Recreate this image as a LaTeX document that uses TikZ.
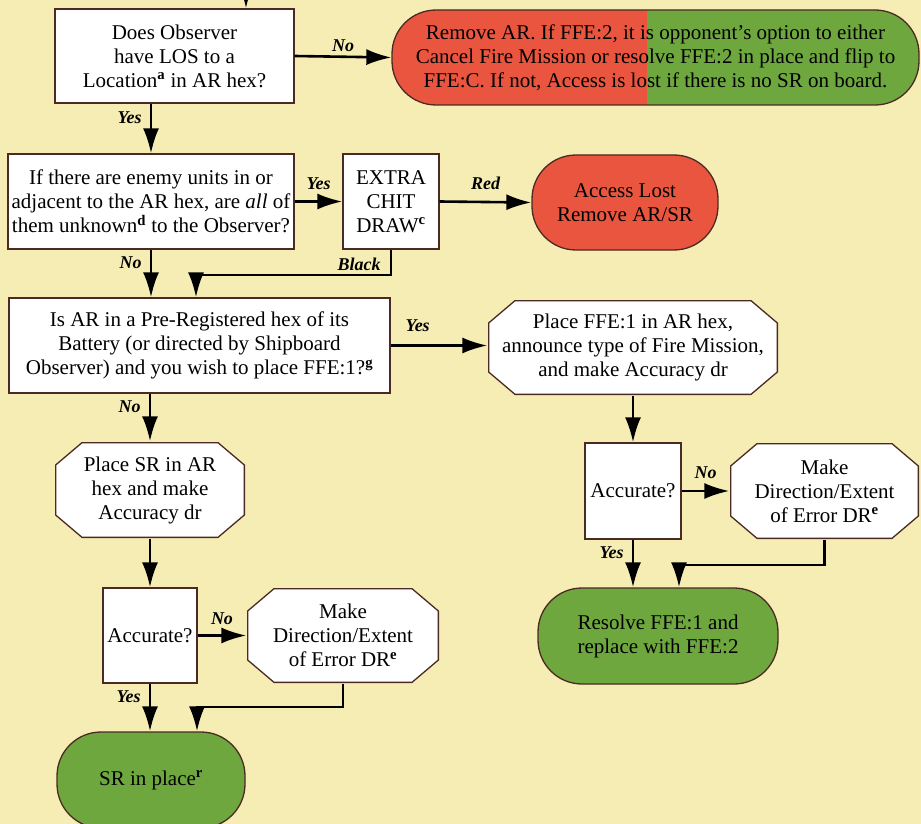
\documentclass[tikz,border=0pt]{standalone}
\usepackage{fontspec}
\setmainfont{Liberation Serif}
\usetikzlibrary{arrows.meta}
\definecolor{paper}{HTML}{F6EDB4}
\definecolor{redf}{HTML}{E9553F}
\definecolor{greenf}{HTML}{6DA73E}
\definecolor{edge}{HTML}{4A2A22}
\tikzset{
	box/.style={draw=edge,line width=1.3pt,fill=white,rectangle,align=center,inner sep=1pt,font=\fontsize{21}{24}\selectfont},
	qbox/.style={box},
	pill/.style={box,rounded corners=44pt},
	octbox/.style={box,draw=none,fill=none,path picture={
		\filldraw [fill=white,draw=edge,line width=1.3pt]
			([xshift=27pt,yshift=.65pt]path picture bounding box.south west) -- ([xshift=-27pt,yshift=.65pt]path picture bounding box.south east)
			-- ([xshift=-.65pt,yshift=23pt]path picture bounding box.south east) -- ([xshift=-.65pt,yshift=-23pt]path picture bounding box.north east)
			-- ([xshift=-27pt,yshift=-.65pt]path picture bounding box.north east) -- ([xshift=27pt,yshift=-.65pt]path picture bounding box.north west)
			-- ([xshift=.65pt,yshift=-23pt]path picture bounding box.north west) -- ([xshift=.65pt,yshift=23pt]path picture bounding box.south west) -- cycle;}},
	flow/.style={line width=2.6pt,-{Latex[length=25pt,width=16pt]}},
	lab/.style={font=\fontsize{18}{20}\selectfont\bfseries\itshape,inner sep=2pt}
}
\begin{document}
\begin{tikzpicture}[x=1pt,y=-1pt]
		\fill [paper] (0,0) rectangle (921,824);
		\useasboundingbox (0,0) rectangle (921,824);
		\node [qbox,minimum width=239pt,minimum height=94pt] (los) at (174.5,56) {Does Observer\\have LOS to a\\Location\textsuperscript{\textbf{a}} in AR hex?};
		\node [pill,fill=greenf,minimum width=527pt,minimum height=95pt,
			path picture={\fill [redf,sharp corners] (path picture bounding box.south west) rectangle ([xshift=-8.5pt]path picture bounding box.north);}]
			(remove) at (655.5,57.5) {Remove AR. If FFE:2, it is opponent's option to either\\Cancel Fire Mission or resolve FFE:2 in place and flip to\\FFE:C. If not, Access is lost if there is no SR on board.};
		\node [qbox,minimum width=286pt,minimum height=95pt] (enemy) at (151,201.5) {If there are enemy units in or\\adjacent to the AR hex, are \textit{all} of\\them unknown\textsuperscript{\textbf{d}} to the Observer?};
		\node [qbox,minimum width=96pt,minimum height=95pt] (chit) at (391,201.5) {EXTRA\\CHIT\\DRAW\textsuperscript{\textbf{c}}};
		\node [pill,fill=redf,minimum width=186pt,minimum height=95pt] (lost) at (625,202.5) {Access Lost\\Remove AR/SR};
		\node [qbox,minimum width=381pt,minimum height=95pt] (prereg) at (199.5,345.5) {Is AR in a Pre-Registered hex of its\\Battery (or directed by Shipboard\\Observer) and you wish to place FFE:1?\textsuperscript{\textbf{g}}};
		\node [octbox,minimum width=290pt,minimum height=95pt] (ffeone) at (633,347.5) {Place FFE:1 in AR hex,\\announce type of Fire Mission,\\and make Accuracy dr};
		\node [qbox,minimum width=96pt,minimum height=96pt] (accB) at (633,491) {Accurate?};
		\node [octbox,minimum width=189pt,minimum height=96pt] (errB) at (824.5,491) {Make\\Direction/Extent\\of Error DR\textsuperscript{\textbf{e}}};
		\node [pill,fill=greenf,minimum width=240pt,minimum height=96pt] (resolve) at (658,636) {Resolve FFE:1 and\\replace with FFE:2};
		\node [octbox,minimum width=190pt,minimum height=96pt] (placesr) at (150,490) {Place SR in AR\\hex and make\\Accuracy dr};
		\node [qbox,minimum width=94pt,minimum height=95pt] (accA) at (150,635.5) {Accurate?};
		\node [octbox,minimum width=192pt,minimum height=95pt] (errA) at (343,635.5) {Make\\Direction/Extent\\of Error DR\textsuperscript{\textbf{e}}};
		\node [pill,fill=greenf,minimum width=188pt,minimum height=96pt] (inplace) at (151,780) {SR in place\textsuperscript{\textbf{r}}};
		\coordinate (entry) at (246,-5);
		\coordinate (blackjoin) at (196,275);
		\coordinate (joinB) at (679,565);
		\coordinate (joinA) at (197,707);
		\draw [flow] (entry) -- (entry |- los.north);
		\draw [flow] (los.east) -- node[lab,above=2pt] {No} (remove.west);
		\draw [flow] (enemy.north |- los.south) -- node[lab,left=6pt,pos=0.28] {Yes} (enemy.north);
		\draw [flow] (enemy.east) -- node[lab,above=9pt] {Yes} (chit.west);
		\draw [flow] (chit.east) -- node[lab,above=9pt] {Red} (lost.west);
		\draw [flow] (chit.south) |- node[lab,above left,pos=0.5,xshift=-7pt,yshift=1pt] {Black} (blackjoin) -- (blackjoin |- prereg.north);
		\draw [flow] (enemy.south) -- node[lab,left=6pt,pos=0.28] {No} (enemy.south |- prereg.north);
		\draw [flow] (prereg.east) -- node[lab,above=11pt,pos=0.28] {Yes} (ffeone.west |- prereg.east);
		\draw [flow] (placesr.north |- prereg.south) -- node[lab,left=6pt,pos=0.28] {No} (placesr.north);
		\draw [flow] (ffeone.south) -- (accB.north);
		\draw [flow] (accB.east) -- node[lab,above=9pt] {No} (errB.west);
		\draw [flow] (accB.south) -- node[lab,left=6pt,pos=0.28] {Yes} (accB.south |- resolve.north);
		\draw [flow] (errB.south) |- (joinB) -- (joinB |- resolve.north);
		\draw [flow] (placesr.south) -- (accA.north);
		\draw [flow] (accA.east) -- node[lab,above=8pt] {No} (errA.west);
		\draw [flow] (accA.south) -- node[lab,left=6pt,pos=0.28] {Yes} (accA.south |- inplace.north);
		\draw [flow] (errA.south) |- (joinA) -- (joinA |- inplace.north);
	\end{tikzpicture}
\end{document}
